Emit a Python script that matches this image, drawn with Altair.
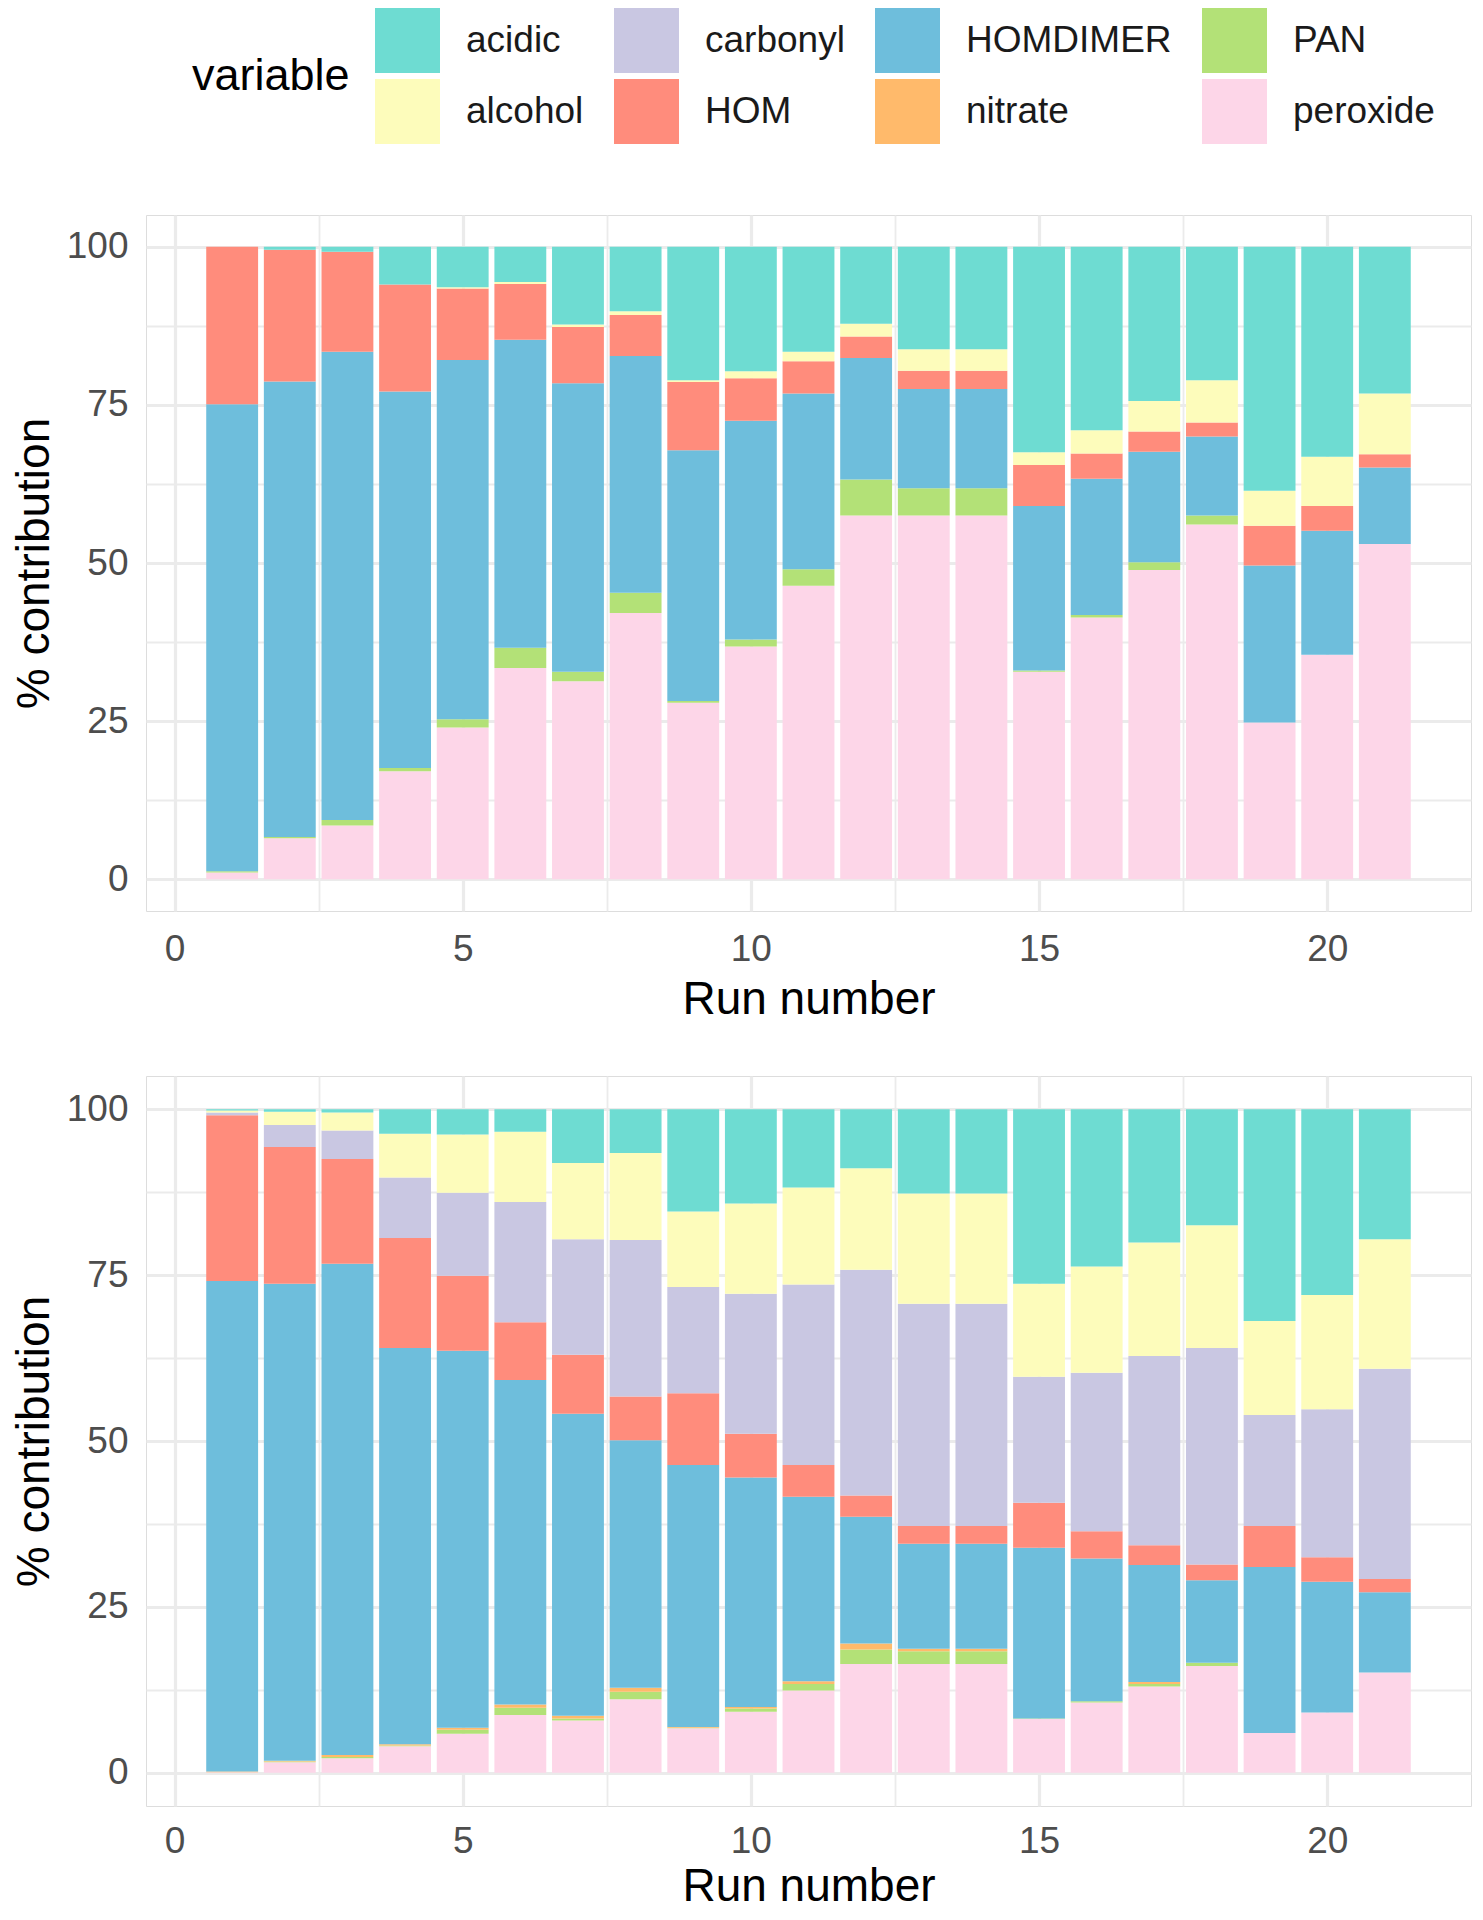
import altair as alt
import pandas as pd

runs = list(range(1, 22))

# stacking order, bottom to top (ggplot puts the first level on top)
stack_order = ["peroxide", "PAN", "nitrate", "HOMDIMER", "HOM", "carbonyl", "alcohol", "acidic"]
# legend order (two rows, filled column-wise in the reference)
legend_order = ["acidic", "carbonyl", "HOMDIMER", "PAN", "alcohol", "HOM", "nitrate", "peroxide"]
legend_colors = ["#6EDCD2", "#C9C7E2", "#6EBEDC", "#B3E177", "#FDFCBB", "#FF8C7C", "#FFBA6B", "#FDD6E8"]

# ---- top panel (% contribution per run) ----
top_peroxide = [1.1, 6.5, 8.5, 17.1, 24.0, 33.4, 31.3, 42.1, 27.9, 36.8, 46.4, 57.5, 57.5, 57.5, 32.8, 41.4, 48.9, 56.1, 24.8, 35.5, 53.0]
top_PAN = [0.2, 0.2, 0.9, 0.5, 1.3, 3.2, 1.5, 3.2, 0.3, 1.1, 2.6, 5.7, 4.3, 4.3, 0.2, 0.4, 1.2, 1.4, 0.0, 0.0, 0.0]
top_nitrate = [0.0, 0.0, 0.0, 0.0, 0.0, 0.0, 0.0, 0.0, 0.0, 0.0, 0.0, 0.0, 0.0, 0.0, 0.0, 0.0, 0.0, 0.0, 0.0, 0.0, 0.0]
top_HOMDIMER = [73.8, 72.0, 74.0, 59.5, 56.8, 48.7, 45.6, 37.4, 39.6, 34.6, 27.8, 19.2, 15.7, 15.7, 26.0, 21.5, 17.5, 12.5, 24.8, 19.6, 12.1]
top_HOM = [24.9, 20.8, 15.8, 16.9, 11.3, 8.8, 8.9, 6.5, 10.8, 6.7, 5.1, 3.4, 2.9, 2.9, 6.5, 4.0, 3.2, 2.2, 6.3, 3.9, 2.1]
top_carbonyl = [0.0, 0.0, 0.0, 0.0, 0.0, 0.0, 0.0, 0.0, 0.0, 0.0, 0.0, 0.0, 0.0, 0.0, 0.0, 0.0, 0.0, 0.0, 0.0, 0.0, 0.0]
top_alcohol = [0.0, 0.0, 0.0, 0.0, 0.2, 0.3, 0.4, 0.6, 0.3, 1.1, 1.5, 2.0, 3.4, 3.4, 2.0, 3.7, 4.8, 6.7, 5.5, 7.8, 9.6]
top_acidic = [0.0, 0.5, 0.8, 6.0, 6.4, 5.6, 12.3, 10.2, 21.1, 19.7, 16.6, 12.2, 16.2, 16.2, 32.5, 29.0, 24.4, 21.1, 38.6, 33.2, 23.2]

# ---- bottom panel ----
bot_peroxide = [0.1, 1.6, 2.2, 4.0, 5.9, 8.7, 7.9, 11.1, 6.7, 9.2, 12.4, 16.4, 16.4, 16.4, 8.1, 10.6, 13.0, 16.1, 6.0, 9.1, 15.1]
bot_PAN = [0.0, 0.1, 0.2, 0.1, 0.6, 1.1, 0.3, 1.1, 0.1, 0.5, 1.0, 2.2, 1.9, 1.9, 0.1, 0.2, 0.4, 0.5, 0.0, 0.0, 0.0]
bot_nitrate = [0.1, 0.1, 0.3, 0.2, 0.3, 0.5, 0.4, 0.6, 0.1, 0.2, 0.4, 0.9, 0.4, 0.4, 0.0, 0.0, 0.3, 0.0, 0.0, 0.0, 0.0]
bot_HOMDIMER = [73.9, 71.9, 74.0, 59.7, 56.8, 48.9, 45.5, 37.3, 39.5, 34.6, 27.8, 19.1, 15.8, 15.8, 25.7, 21.5, 17.6, 12.4, 25.0, 19.7, 12.1]
bot_HOM = [25.0, 20.6, 15.8, 16.6, 11.3, 8.7, 8.9, 6.6, 10.8, 6.6, 4.8, 3.2, 2.7, 2.7, 6.8, 4.1, 3.0, 2.4, 6.2, 3.7, 2.0]
bot_carbonyl = [0.4, 3.3, 4.3, 9.1, 12.5, 18.1, 17.4, 23.6, 16.0, 21.1, 27.2, 34.0, 33.5, 33.5, 19.0, 23.9, 28.5, 32.6, 16.7, 22.3, 31.7]
bot_alcohol = [0.3, 2.0, 2.7, 6.6, 8.8, 10.6, 11.5, 13.1, 11.4, 13.6, 14.6, 15.3, 16.6, 16.6, 14.0, 16.0, 17.1, 18.5, 14.2, 17.2, 19.5]
bot_acidic = [0.2, 0.4, 0.5, 3.7, 3.8, 3.4, 8.1, 6.6, 15.4, 14.2, 11.8, 8.9, 12.7, 12.7, 26.3, 23.7, 20.1, 17.5, 31.9, 28.0, 19.6]

x_ticks = [0, 2.5, 5, 7.5, 10, 12.5, 15, 17.5, 20]
y_ticks = [0, 12.5, 25, 37.5, 50, 62.5, 75, 87.5, 100]

top_series = {
    "peroxide": top_peroxide, "PAN": top_PAN, "nitrate": top_nitrate, "HOMDIMER": top_HOMDIMER,
    "HOM": top_HOM, "carbonyl": top_carbonyl, "alcohol": top_alcohol, "acidic": top_acidic,
}
bot_series = {
    "peroxide": bot_peroxide, "PAN": bot_PAN, "nitrate": bot_nitrate, "HOMDIMER": bot_HOMDIMER,
    "HOM": bot_HOM, "carbonyl": bot_carbonyl, "alcohol": bot_alcohol, "acidic": bot_acidic,
}


def long_frame(series):
    rows = []
    for var, vals in series.items():
        for r, v in zip(runs, vals):
            rows.append({"run": r, "variable": var, "value": v, "rank": stack_order.index(var)})
    return pd.DataFrame(rows)


FONT = "Liberation Sans"
GRID = "#ebebeb"


def axis_x(label_pad, title_pad):
    return alt.Axis(
        title="Run number", values=x_ticks,
        labelExpr="datum.value % 5 === 0 ? datum.label : ''",
        ticks=False, domain=False, labelOverlap=False, labelFlush=False,
        gridColor=GRID,
        gridWidth={"condition": {"test": "datum.value % 5 === 0", "value": 3.2}, "value": 1.8},
        labelFontSize=37, labelColor="#4d4d4d", labelFont=FONT, labelPadding=label_pad,
        titleFontSize=46, titleColor="#000000", titleFont=FONT, titleFontWeight="normal",
        titlePadding=title_pad,
    )


def axis_y():
    return alt.Axis(
        title="% contribution", values=y_ticks,
        labelExpr="datum.value % 25 === 0 ? datum.label : ''",
        ticks=False, domain=False, labelOverlap=False, labelFlush=False,
        gridColor=GRID,
        gridWidth={"condition": {"test": "datum.value % 25 === 0", "value": 3.2}, "value": 1.8},
        labelFontSize=37, labelColor="#4d4d4d", labelFont=FONT, labelPadding=18,
        titleFontSize=46, titleColor="#000000", titleFont=FONT, titleFontWeight="normal",
        titlePadding=8,
    )


legend = alt.Legend(
    title="variable", orient="none", legendX=46, legendY=-207,
    direction="horizontal", columns=4,
    symbolType="square", symbolSize=4225, symbolStrokeWidth=0, symbolOpacity=1,
    labelFontSize=37, labelFont=FONT, labelColor="#1a1a1a", labelOffset=26, labelLimit=0,
    titleFontSize=45, titleFont=FONT, titleColor="#000000", titleFontWeight="normal",
    titleOrient="left", titleAnchor="middle", titlePadding=25,
    columnPadding=30, rowPadding=6,
)


def panel(df, height, label_pad, title_pad):
    return (
        alt.Chart(df)
        .transform_filter("datum.value > 0")
        .transform_window(top="sum(value)", groupby=["run"], sort=[alt.SortField("rank", order="ascending")], frame=[None, 0])
        .transform_calculate(bottom="datum.top - datum.value", x0="datum.run - 0.45", x1="datum.run + 0.45")
        .mark_bar(strokeWidth=0)
        .encode(
            x=alt.X("x0:Q", scale=alt.Scale(domain=[-0.495, 22.495], nice=False, zero=False),
                    axis=axis_x(label_pad, title_pad)),
            x2="x1:Q",
            y=alt.Y("bottom:Q", scale=alt.Scale(domain=[-5, 105], nice=False, zero=False), axis=axis_y()),
            y2="top:Q",
            color=alt.Color("variable:N", scale=alt.Scale(domain=legend_order, range=legend_colors), legend=legend),
        )
        .properties(width=1325, height=height)
    )


top = panel(long_frame(top_series), 696, 20, 10)
bottom = panel(long_frame(bot_series), 730, 17, 5)

chart = (
    alt.vconcat(top, bottom, spacing=52)
    .resolve_scale(x="independent", y="independent", color="shared")
    .properties(padding={"left": 2, "top": 0, "right": 0, "bottom": 0}, background="white")
    .configure_view(stroke=None)
    .configure(font=FONT)
)

chart.save("out.html", embed_options={"renderer": "svg", "actions": False})
